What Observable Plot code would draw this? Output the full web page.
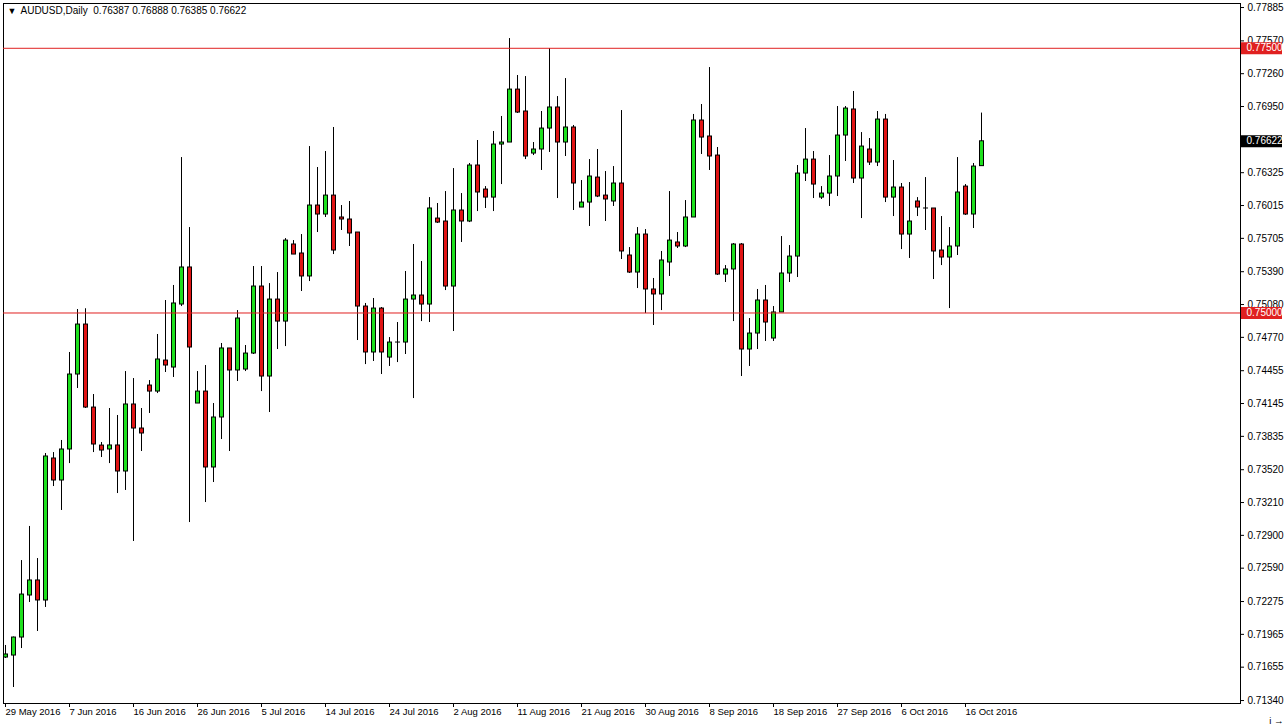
<!DOCTYPE html>
<html><head><meta charset="utf-8">
<script src="https://cdn.jsdelivr.net/npm/d3@7"></script>
<script src="https://cdn.jsdelivr.net/npm/@observablehq/plot@0.6"></script>
<style>
html,body{margin:0;padding:0;background:#fff;overflow:hidden}
#chart svg{display:block}
</style></head><body><div id="chart"></div>
<script>
const symbol = "AUDUSD";
const timeframe = "Daily";

const open = [0.71746,0.71765,0.71935,0.72332,0.72474,0.72285,0.73626,0.73418,0.73711,0.74419,
0.74891,0.74107,0.73748,0.73711,0.73749,0.73503,0.74136,0.73909,0.74315,0.74258,
0.74551,0.74485,0.75080,0.75430,0.74145,0.74258,0.73541,0.74013,0.74665,0.74457,
0.74466,0.74617,0.75250,0.74400,0.75127,0.74919,0.75647,0.75562,0.75345,0.76015,
0.75930,0.76109,0.75902,0.75883,0.75760,0.75061,0.74627,0.75042,0.74579,0.74721,
0.74721,0.75127,0.75165,0.75080,0.75892,0.75864,0.75250,0.75968,0.75864,0.76393,
0.76166,0.76090,0.76591,0.76610,0.77110,0.76903,0.76506,0.76544,0.76742,0.76941,
0.76610,0.76752,0.75996,0.76043,0.76279,0.76109,0.76053,0.76223,0.75543,0.75382,
0.75741,0.75222,0.75175,0.75477,0.75666,0.75628,0.75902,0.76818,0.76667,0.76487,
0.75363,0.75411,0.75647,0.74655,0.74806,0.75118,0.74759,0.75005,0.75373,0.75533,
0.76317,0.76449,0.76090,0.76128,0.76289,0.76676,0.76922,0.76270,0.76544,0.76421,
0.76827,0.76090,0.76185,0.75741,0.76053,0.75987,0.75987,0.75590,0.75524,0.75628,
0.76194,0.75930,0.76387];
const high = [0.71860,0.71940,0.72662,0.72984,0.72681,0.73673,0.73682,0.73796,0.74627,0.75033,
0.75040,0.74230,0.73777,0.74098,0.74032,0.74447,0.74381,0.74098,0.74362,0.74797,
0.75118,0.75260,0.76468,0.75807,0.74447,0.74504,0.74145,0.74712,0.74665,0.75023,
0.74693,0.75439,0.75439,0.75278,0.75382,0.75703,0.75684,0.75741,0.76572,0.76374,
0.76525,0.76752,0.76015,0.76053,0.75760,0.75090,0.75137,0.75052,0.74768,0.74910,
0.75392,0.75647,0.75486,0.76090,0.76034,0.76147,0.76364,0.76128,0.76412,0.76629,
0.76194,0.76714,0.76856,0.77592,0.77243,0.77233,0.76610,0.76903,0.77498,0.77044,
0.77214,0.76771,0.76251,0.76449,0.76544,0.76336,0.76383,0.76912,0.75618,0.75807,
0.75788,0.75326,0.75581,0.76147,0.75760,0.76062,0.76875,0.76969,0.77318,0.76563,
0.75448,0.75656,0.75656,0.74948,0.75222,0.75260,0.75061,0.75722,0.75637,0.76393,
0.76742,0.76525,0.76194,0.76487,0.76950,0.76950,0.77092,0.76704,0.76648,0.76903,
0.76875,0.76440,0.76223,0.76232,0.76090,0.76279,0.75987,0.75911,0.75807,0.76468,
0.76213,0.76412,0.76888];
const low = [0.71737,0.71463,0.71831,0.72266,0.71992,0.72219,0.73361,0.73135,0.73578,0.74287,
0.74098,0.73682,0.73635,0.73578,0.73295,0.73324,0.72842,0.73692,0.74051,0.74239,
0.74438,0.74391,0.75061,0.73021,0.74145,0.73210,0.73399,0.73805,0.73692,0.74353,
0.74447,0.74608,0.74258,0.74060,0.74655,0.74683,0.75552,0.75203,0.75297,0.75760,
0.75902,0.75552,0.75779,0.75628,0.74740,0.74513,0.74542,0.74419,0.74495,0.74532,
0.74608,0.74192,0.74919,0.74910,0.75845,0.75212,0.74825,0.75666,0.75854,0.75958,
0.75987,0.75958,0.76213,0.76610,0.76884,0.76449,0.76487,0.76346,0.76516,0.76081,
0.76478,0.75968,0.75996,0.75817,0.76090,0.75864,0.76006,0.75505,0.75373,0.75231,
0.74995,0.74882,0.75023,0.75345,0.75609,0.75618,0.75902,0.76497,0.76346,0.75354,
0.75288,0.74919,0.74400,0.74495,0.74655,0.74731,0.74731,0.75005,0.75288,0.75335,
0.76242,0.76081,0.76072,0.76006,0.76100,0.76431,0.76223,0.75892,0.76393,0.76383,
0.76043,0.75911,0.75599,0.75515,0.75911,0.75779,0.75316,0.75448,0.75042,0.75543,
0.75921,0.75798,0.76385];
const close = [0.71775,0.71935,0.72341,0.72474,0.72285,0.73645,0.73418,0.73711,0.74419,0.74891,
0.74107,0.73758,0.73701,0.73749,0.73503,0.74136,0.73909,0.73862,0.74258,0.74561,
0.74504,0.75090,0.75430,0.74674,0.74258,0.73541,0.74013,0.74665,0.74457,0.74948,
0.74617,0.75250,0.74400,0.75127,0.74919,0.75684,0.75552,0.75345,0.76015,0.75930,
0.76109,0.75590,0.75883,0.75751,0.75061,0.74627,0.75042,0.74627,0.74721,0.74721,
0.75127,0.75165,0.75080,0.75987,0.75854,0.75250,0.75968,0.75864,0.76393,0.76138,
0.76090,0.76591,0.76610,0.77110,0.76893,0.76478,0.76544,0.76742,0.76941,0.76610,
0.76752,0.76223,0.76043,0.76289,0.76100,0.76072,0.76223,0.75581,0.75382,0.75741,
0.75222,0.75175,0.75496,0.75684,0.75628,0.75902,0.76818,0.76657,0.76478,0.75363,
0.75411,0.75647,0.74655,0.74806,0.75118,0.74910,0.75005,0.75373,0.75533,0.76317,
0.76449,0.76213,0.76128,0.76289,0.76676,0.76931,0.76270,0.76572,0.76421,0.76827,
0.76090,0.76185,0.75741,0.75864,0.75996,0.75987,0.75581,0.75524,0.75628,0.76138,
0.75930,0.76383,0.76622];

const xTickLabels = ["29 May 2016","7 Jun 2016","16 Jun 2016","26 Jun 2016","5 Jul 2016","14 Jul 2016",
"24 Jul 2016","2 Aug 2016","11 Aug 2016","21 Aug 2016","30 Aug 2016","8 Sep 2016","18 Sep 2016",
"27 Sep 2016","6 Oct 2016","16 Oct 2016"];
const barsPerLabel = 8;
const yTickValues = [0.77885,0.77570,0.77260,0.76950,0.76325,0.76015,0.75705,0.75390,0.75080,0.74770,
0.74455,0.74145,0.73835,0.73520,0.73210,0.72900,0.72590,0.72275,0.71965,0.71655,0.71340];
const levels = [0.775, 0.75];

const GREEN = "#1ee01e", RED = "#e01414", LINE_RED = "#e02020";
const fmt = d3.format(".5f");

const bars = open.map((o, i) => ({
  i, o, h: high[i], l: low[i], c: close[i],
  top: Math.max(o, close[i]), bot: Math.min(o, close[i]),
  up: close[i] > o, doji: close[i] === o
}));
const last = bars[bars.length - 1];
const title = `${symbol},${timeframe}  ${fmt(last.o)} ${fmt(last.h)} ${fmt(last.l)} ${fmt(last.c)}`;
const xTicks = xTickLabels.map((_, k) => k * barsPerLabel);

const W = 1286, H = 726, mL = 3, mR = 46, mT = 3, mB = 23;
const frameW = W - mL - mR;

const chart = Plot.plot({
  width: W, height: H,
  marginLeft: mL, marginRight: mR, marginTop: mT, marginBottom: mB,
  style: {fontFamily: "Tahoma, 'Liberation Sans', Arial, sans-serif", fontSize: "10px", background: "#fff", color: "#000"},
  x: {domain: [-0.25, 154.375]},
  y: {domain: [0.71312, 0.77923]},
  marks: [
    Plot.frame({stroke: "#000"}),
    Plot.ruleX(bars, {x: "i", y1: "h", y2: "l", stroke: "#000", strokeWidth: 1}),
    Plot.ruleX(bars, {x: "i", y1: "top", y2: "bot", stroke: "#000", strokeWidth: 5, insetTop: -0.5, insetBottom: -0.5}),
    Plot.ruleX(bars.filter(d => !d.doji && d.up), {x: "i", y1: "top", y2: "bot", stroke: GREEN, strokeWidth: 3, insetTop: 0.5, insetBottom: 0.5}),
    Plot.ruleX(bars.filter(d => !d.doji && !d.up), {x: "i", y1: "top", y2: "bot", stroke: RED, strokeWidth: 3, insetTop: 0.5, insetBottom: 0.5}),
    Plot.ruleY(levels, {stroke: LINE_RED, strokeWidth: 1}),
    Plot.axisY(yTickValues, {anchor: "right", tickFormat: fmt, tickSize: 3, tickPadding: 4, textAnchor: "start", fill: "#000", fontSize: 10}),
    Plot.axisX(xTicks, {anchor: "bottom", tickFormat: d => xTickLabels[d / barsPerLabel], tickSize: 4, tickPadding: 1, textAnchor: "start", dx: 0, fontSize: 9.5}),
    Plot.ruleY(levels, {stroke: LINE_RED, strokeWidth: 12, insetLeft: frameW + 1, insetRight: -42}),
    Plot.text(levels, {y: d => d, text: fmt, frameAnchor: "right", dx: 6, textAnchor: "start", fill: "#fff", fontSize: 10}),
    Plot.ruleY([last.c], {stroke: "#000", strokeWidth: 12, insetLeft: frameW + 1, insetRight: -42}),
    Plot.text([last.c], {y: d => d, text: fmt, frameAnchor: "right", dx: 6, textAnchor: "start", fill: "#fff", fontSize: 10}),
    Plot.text(["▼"], {frameAnchor: "top-left", dx: 4, dy: 4, textAnchor: "start", lineAnchor: "top", fontSize: 9}),
    Plot.text([title], {frameAnchor: "top-left", dx: 17, dy: 3, textAnchor: "start", lineAnchor: "top", fontSize: 10})
  ]
});
document.getElementById("chart").appendChild(chart);
</script>
</body></html>
